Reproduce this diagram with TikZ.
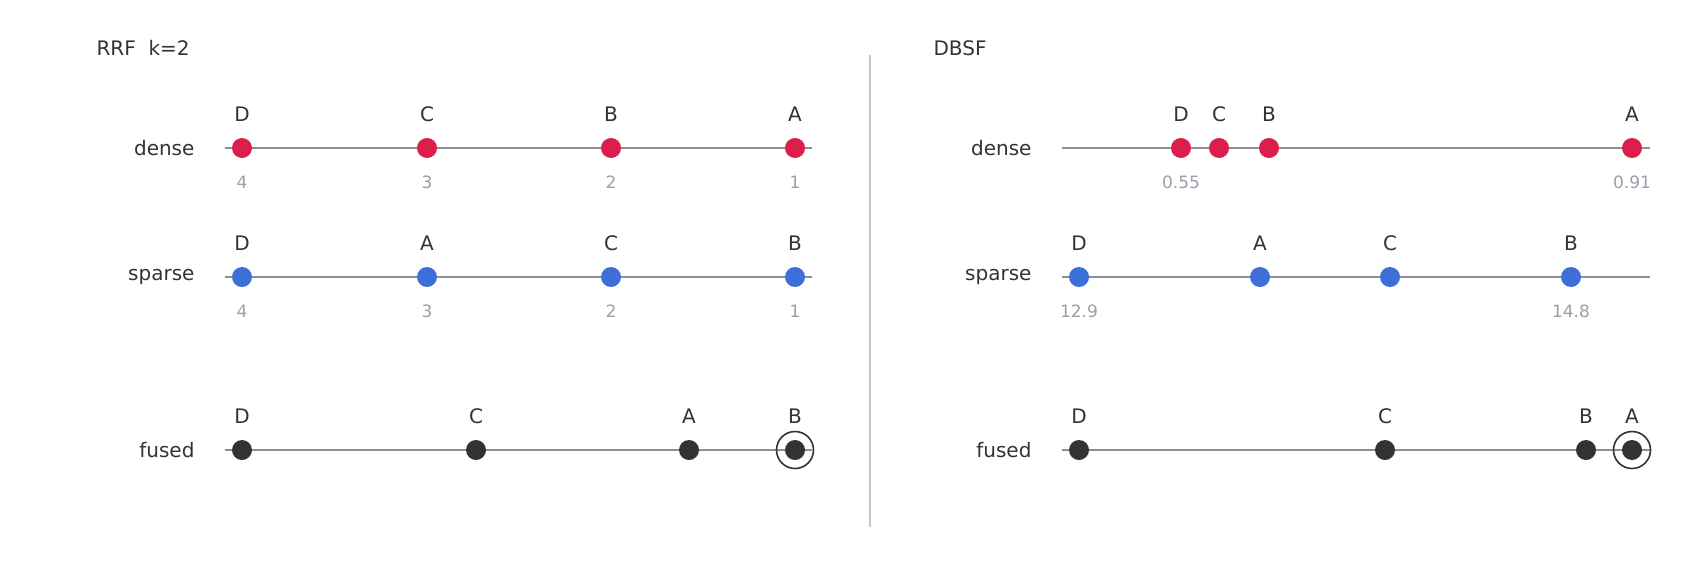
\documentclass[tikz,border=0pt]{standalone}
\usepackage{fontspec}
\setmainfont{DejaVu Sans}
\definecolor{red1}{HTML}{DC1F4A}
\definecolor{blue1}{HTML}{3D6FD8}
\definecolor{dark}{HTML}{333333}
\definecolor{axis}{HTML}{8A8F9C}
\definecolor{num}{HTML}{9AA0A8}
\begin{document}
\begin{tikzpicture}[x=1pt,y=-1pt,
  lab/.style={font=\fontsize{20}{24}\selectfont,text=dark},
  rowlab/.style={lab,anchor=east},
  numl/.style={font=\fontsize{17}{20}\selectfont,text=num},
  ax/.style={draw=axis,line width=1.2pt},
  dot/.style={circle,inner sep=0pt,minimum size=20pt,fill=#1},
  ring/.style={circle,draw=dark,line width=1.6pt,minimum size=37pt,inner sep=0pt}]
\useasboundingbox[fill=white] (0,0) rectangle (1696,560);
\node[lab,anchor=west] (t1) at (93,48) {RRF\ \ k=2};
\node[lab,anchor=west] (t2) at (930,48) {DBSF};
\coordinate (v1) at (870,55); \coordinate (v2) at (870,527);
\draw[draw=black!22,line width=1.2pt] (v1) -- (v2);
% row labels
\foreach \n/\y/\t in {a/148/dense,b/277/sparse,c/450/fused}{
  \node[rowlab] (L\n) at (198,\y) {\t};
  \node[rowlab] (R\n) at (1035,\y) {\t};
  \coordinate (la\n) at (225,\y); \coordinate (lb\n) at (812,\y);
  \coordinate (ra\n) at (1062,\y); \coordinate (rb\n) at (1650,\y);
  \draw[ax] (la\n) -- (lb\n);
  \draw[ax] (ra\n) -- (rb\n);
}
% left dense
\foreach \x/\l/\v in {242/D/4,427/C/3,611/B/2,795/A/1}{
  \node[dot=red1] (ld\l) at (\x,148) {};
  \node[lab] (ldl\l) at (\x,114) {\l};
  \node[numl] (ldn\l) at (\x,182) {\v};
}
\foreach \x/\l/\v in {242/D/4,427/A/3,611/C/2,795/B/1}{
  \node[dot=blue1] (ls\l) at (\x,277) {};
  \node[lab] (lsl\l) at (\x,243) {\l};
  \node[numl] (lsn\l) at (\x,311) {\v};
}
\foreach \x/\l in {242/D,476/C,689/A,795/B}{
  \node[dot=dark] (lf\l) at (\x,450) {};
  \node[lab] (lfl\l) at (\x,416) {\l};
}
\node[ring] (lring) at (lfB) {};
% right
\foreach \x/\l in {1181/D,1219/C,1269/B,1632/A}{
  \node[dot=red1] (rd\l) at (\x,148) {};
  \node[lab] (rdl\l) at (\x,114) {\l};
}
\node[numl] (rdnD) at (1181,182) {0.55};
\node[numl] (rdnA) at (1632,182) {0.91};
\foreach \x/\l in {1079/D,1260/A,1390/C,1571/B}{
  \node[dot=blue1] (rs\l) at (\x,277) {};
  \node[lab] (rsl\l) at (\x,243) {\l};
}
\node[numl] (rsnD) at (1079,311) {12.9};
\node[numl] (rsnB) at (1571,311) {14.8};
\foreach \x/\l in {1079/D,1385/C,1586/B,1632/A}{
  \node[dot=dark] (rf\l) at (\x,450) {};
  \node[lab] (rfl\l) at (\x,416) {\l};
}
\node[ring] (rring) at (rfA) {};
\end{tikzpicture}
\end{document}
